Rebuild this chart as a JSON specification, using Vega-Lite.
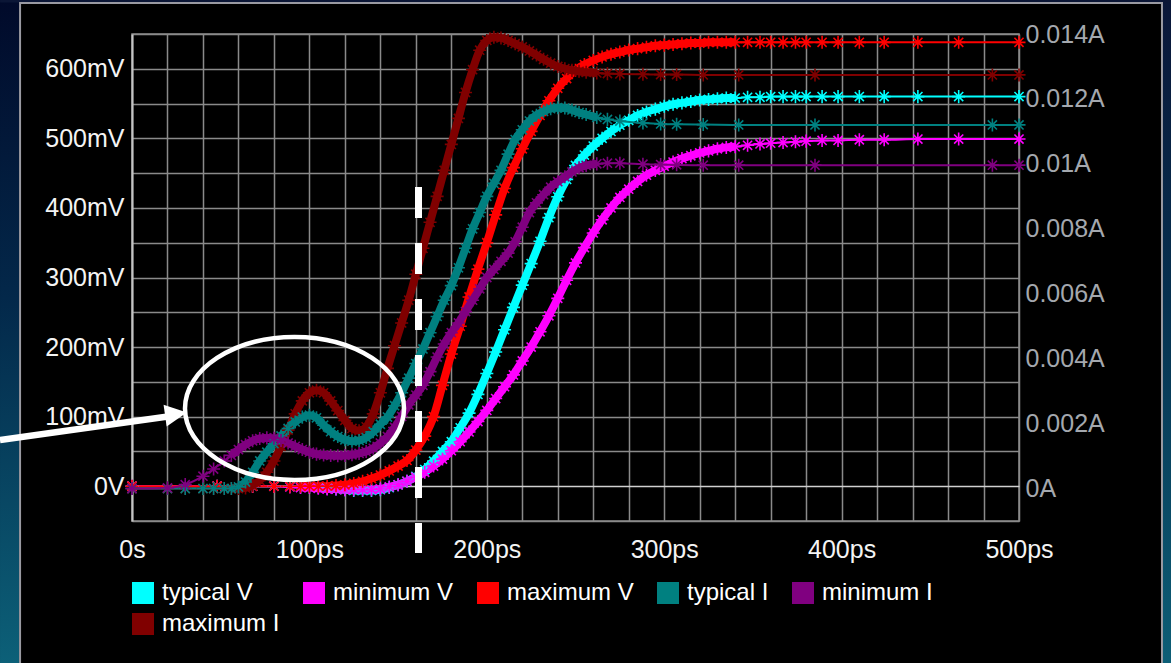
{
"$schema": "https://vega.github.io/schema/vega-lite/v6.json",
"width": 887, "height": 487,
"autosize": {"type": "none"},
"padding": {"left": 132, "top": 34, "right": 152, "bottom": 142},
"background": "#000000",
"config": {
  "font": "Liberation Sans",
  "view": {"stroke": "#8c8c8c", "strokeWidth": 1.5},
  "axis": {"ticks": false, "labelFont": "Liberation Sans", "labelFontSize": 25, "grid": true, "gridWidth": 1.5, "domain": false, "labelOverlap": false, "labelFlush": false}
},
"datasets": {"curves": [
{"s":"typical V","t":0,"v":0},{"s":"typical V","t":48,"v":0},{"s":"typical V","t":68,"v":0},{"s":"typical V","t":80,"v":0},{"s":"typical V","t":89,"v":0},{"s":"typical V","t":95,"v":-1},{"s":"typical V","t":100,"v":-1},{"s":"typical V","t":105,"v":-2},{"s":"typical V","t":110,"v":-3},{"s":"typical V","t":115,"v":-4},{"s":"typical V","t":120,"v":-5},{"s":"typical V","t":125,"v":-6},{"s":"typical V","t":130,"v":-6},{"s":"typical V","t":135,"v":-6},{"s":"typical V","t":140,"v":-5},{"s":"typical V","t":145,"v":-2},{"s":"typical V","t":150,"v":2},{"s":"typical V","t":155,"v":7},{"s":"typical V","t":160,"v":14},{"s":"typical V","t":165,"v":24},{"s":"typical V","t":170,"v":36},{"s":"typical V","t":175,"v":50},{"s":"typical V","t":180,"v":64},{"s":"typical V","t":185,"v":84},{"s":"typical V","t":190,"v":105},{"s":"typical V","t":195,"v":132},{"s":"typical V","t":200,"v":162},{"s":"typical V","t":205,"v":193},{"s":"typical V","t":210,"v":225},{"s":"typical V","t":215,"v":257},{"s":"typical V","t":220,"v":289},{"s":"typical V","t":225,"v":320},{"s":"typical V","t":230,"v":352},{"s":"typical V","t":235,"v":386},{"s":"typical V","t":240,"v":416},{"s":"typical V","t":245,"v":441},{"s":"typical V","t":250,"v":461},{"s":"typical V","t":255,"v":476},{"s":"typical V","t":260,"v":489},{"s":"typical V","t":265,"v":500},{"s":"typical V","t":270,"v":510},{"s":"typical V","t":275,"v":519},{"s":"typical V","t":280,"v":526},{"s":"typical V","t":285,"v":533},{"s":"typical V","t":290,"v":538},{"s":"typical V","t":295,"v":542},{"s":"typical V","t":300,"v":546},{"s":"typical V","t":305,"v":549},{"s":"typical V","t":310,"v":551},{"s":"typical V","t":315,"v":553},{"s":"typical V","t":320,"v":555},{"s":"typical V","t":325,"v":556},{"s":"typical V","t":330,"v":557},{"s":"typical V","t":335,"v":558},{"s":"typical V","t":340,"v":558},{"s":"typical V","t":347,"v":559},{"s":"typical V","t":354,"v":559},{"s":"typical V","t":360,"v":560},{"s":"typical V","t":367,"v":560},{"s":"typical V","t":374,"v":560},{"s":"typical V","t":380,"v":560},{"s":"typical V","t":389,"v":560},{"s":"typical V","t":398,"v":560},{"s":"typical V","t":410,"v":560},{"s":"typical V","t":424,"v":560},{"s":"typical V","t":443,"v":560},{"s":"typical V","t":466,"v":560},{"s":"typical V","t":500,"v":560},
{"s":"minimum V","t":0,"v":0},{"s":"minimum V","t":48,"v":0},{"s":"minimum V","t":68,"v":0},{"s":"minimum V","t":80,"v":0},{"s":"minimum V","t":89,"v":-1},{"s":"minimum V","t":95,"v":-2},{"s":"minimum V","t":100,"v":-2},{"s":"minimum V","t":105,"v":-3},{"s":"minimum V","t":110,"v":-4},{"s":"minimum V","t":115,"v":-4},{"s":"minimum V","t":120,"v":-5},{"s":"minimum V","t":125,"v":-5},{"s":"minimum V","t":130,"v":-5},{"s":"minimum V","t":135,"v":-5},{"s":"minimum V","t":140,"v":-4},{"s":"minimum V","t":145,"v":-1},{"s":"minimum V","t":150,"v":2},{"s":"minimum V","t":155,"v":7},{"s":"minimum V","t":160,"v":13},{"s":"minimum V","t":165,"v":20},{"s":"minimum V","t":170,"v":29},{"s":"minimum V","t":175,"v":39},{"s":"minimum V","t":180,"v":51},{"s":"minimum V","t":185,"v":64},{"s":"minimum V","t":190,"v":78},{"s":"minimum V","t":195,"v":93},{"s":"minimum V","t":200,"v":109},{"s":"minimum V","t":205,"v":126},{"s":"minimum V","t":210,"v":143},{"s":"minimum V","t":215,"v":160},{"s":"minimum V","t":220,"v":180},{"s":"minimum V","t":225,"v":200},{"s":"minimum V","t":230,"v":222},{"s":"minimum V","t":235,"v":245},{"s":"minimum V","t":240,"v":270},{"s":"minimum V","t":245,"v":296},{"s":"minimum V","t":250,"v":321},{"s":"minimum V","t":255,"v":343},{"s":"minimum V","t":260,"v":364},{"s":"minimum V","t":265,"v":383},{"s":"minimum V","t":270,"v":400},{"s":"minimum V","t":275,"v":415},{"s":"minimum V","t":280,"v":427},{"s":"minimum V","t":285,"v":438},{"s":"minimum V","t":290,"v":447},{"s":"minimum V","t":295,"v":454},{"s":"minimum V","t":300,"v":460},{"s":"minimum V","t":305,"v":466},{"s":"minimum V","t":310,"v":471},{"s":"minimum V","t":315,"v":475},{"s":"minimum V","t":320,"v":479},{"s":"minimum V","t":325,"v":482},{"s":"minimum V","t":330,"v":485},{"s":"minimum V","t":335,"v":487},{"s":"minimum V","t":340,"v":488},{"s":"minimum V","t":347,"v":490},{"s":"minimum V","t":354,"v":492},{"s":"minimum V","t":360,"v":493},{"s":"minimum V","t":367,"v":494},{"s":"minimum V","t":374,"v":495},{"s":"minimum V","t":380,"v":496},{"s":"minimum V","t":389,"v":497},{"s":"minimum V","t":398,"v":497},{"s":"minimum V","t":410,"v":498},{"s":"minimum V","t":424,"v":498},{"s":"minimum V","t":443,"v":499},{"s":"minimum V","t":466,"v":499},{"s":"minimum V","t":500,"v":499},
{"s":"maximum V","t":0,"v":0},{"s":"maximum V","t":48,"v":0},{"s":"maximum V","t":68,"v":0},{"s":"maximum V","t":80,"v":0},{"s":"maximum V","t":89,"v":0},{"s":"maximum V","t":95,"v":0},{"s":"maximum V","t":100,"v":0},{"s":"maximum V","t":105,"v":0},{"s":"maximum V","t":110,"v":0},{"s":"maximum V","t":115,"v":1},{"s":"maximum V","t":120,"v":2},{"s":"maximum V","t":125,"v":4},{"s":"maximum V","t":130,"v":7},{"s":"maximum V","t":135,"v":11},{"s":"maximum V","t":140,"v":16},{"s":"maximum V","t":145,"v":22},{"s":"maximum V","t":150,"v":29},{"s":"maximum V","t":155,"v":37},{"s":"maximum V","t":160,"v":52},{"s":"maximum V","t":165,"v":72},{"s":"maximum V","t":170,"v":100},{"s":"maximum V","t":175,"v":145},{"s":"maximum V","t":180,"v":190},{"s":"maximum V","t":185,"v":230},{"s":"maximum V","t":190,"v":272},{"s":"maximum V","t":195,"v":312},{"s":"maximum V","t":200,"v":350},{"s":"maximum V","t":205,"v":390},{"s":"maximum V","t":210,"v":428},{"s":"maximum V","t":215,"v":458},{"s":"maximum V","t":220,"v":485},{"s":"maximum V","t":225,"v":510},{"s":"maximum V","t":230,"v":533},{"s":"maximum V","t":235,"v":554},{"s":"maximum V","t":240,"v":572},{"s":"maximum V","t":245,"v":586},{"s":"maximum V","t":250,"v":598},{"s":"maximum V","t":255,"v":606},{"s":"maximum V","t":260,"v":612},{"s":"maximum V","t":265,"v":617},{"s":"maximum V","t":270,"v":621},{"s":"maximum V","t":275,"v":624},{"s":"maximum V","t":280,"v":627},{"s":"maximum V","t":285,"v":629},{"s":"maximum V","t":290,"v":631},{"s":"maximum V","t":295,"v":633},{"s":"maximum V","t":300,"v":634},{"s":"maximum V","t":305,"v":635},{"s":"maximum V","t":310,"v":636},{"s":"maximum V","t":315,"v":637},{"s":"maximum V","t":320,"v":637},{"s":"maximum V","t":325,"v":638},{"s":"maximum V","t":330,"v":638},{"s":"maximum V","t":335,"v":638},{"s":"maximum V","t":340,"v":638},{"s":"maximum V","t":347,"v":638},{"s":"maximum V","t":354,"v":638},{"s":"maximum V","t":360,"v":638},{"s":"maximum V","t":367,"v":638},{"s":"maximum V","t":374,"v":638},{"s":"maximum V","t":380,"v":638},{"s":"maximum V","t":389,"v":638},{"s":"maximum V","t":398,"v":638},{"s":"maximum V","t":410,"v":638},{"s":"maximum V","t":424,"v":638},{"s":"maximum V","t":443,"v":638},{"s":"maximum V","t":466,"v":638},{"s":"maximum V","t":500,"v":638},
{"s":"maximum I","t":0,"v":0},{"s":"maximum I","t":20,"v":0},{"s":"maximum I","t":30,"v":0},{"s":"maximum I","t":40,"v":0},{"s":"maximum I","t":46,"v":0},{"s":"maximum I","t":52,"v":0},{"s":"maximum I","t":56,"v":0},{"s":"maximum I","t":60,"v":0},{"s":"maximum I","t":64,"v":0.02},{"s":"maximum I","t":68,"v":0.1},{"s":"maximum I","t":72,"v":0.25},{"s":"maximum I","t":76,"v":0.5},{"s":"maximum I","t":80,"v":0.85},{"s":"maximum I","t":84,"v":1.3},{"s":"maximum I","t":88,"v":1.8},{"s":"maximum I","t":92,"v":2.3},{"s":"maximum I","t":96,"v":2.7},{"s":"maximum I","t":100,"v":2.95},{"s":"maximum I","t":104,"v":3.03},{"s":"maximum I","t":108,"v":2.95},{"s":"maximum I","t":112,"v":2.7},{"s":"maximum I","t":116,"v":2.4},{"s":"maximum I","t":120,"v":2.1},{"s":"maximum I","t":124,"v":1.85},{"s":"maximum I","t":128,"v":1.78},{"s":"maximum I","t":132,"v":1.9},{"s":"maximum I","t":136,"v":2.3},{"s":"maximum I","t":140,"v":2.95},{"s":"maximum I","t":144,"v":3.7},{"s":"maximum I","t":148,"v":4.4},{"s":"maximum I","t":152,"v":5.1},{"s":"maximum I","t":156,"v":5.8},{"s":"maximum I","t":160,"v":6.6},{"s":"maximum I","t":164,"v":7.4},{"s":"maximum I","t":168,"v":8.2},{"s":"maximum I","t":172,"v":9.0},{"s":"maximum I","t":176,"v":9.8},{"s":"maximum I","t":180,"v":10.6},{"s":"maximum I","t":184,"v":11.4},{"s":"maximum I","t":188,"v":12.2},{"s":"maximum I","t":192,"v":12.9},{"s":"maximum I","t":196,"v":13.5},{"s":"maximum I","t":200,"v":13.8},{"s":"maximum I","t":204,"v":13.9},{"s":"maximum I","t":208,"v":13.88},{"s":"maximum I","t":212,"v":13.8},{"s":"maximum I","t":216,"v":13.7},{"s":"maximum I","t":220,"v":13.6},{"s":"maximum I","t":224,"v":13.48},{"s":"maximum I","t":228,"v":13.35},{"s":"maximum I","t":232,"v":13.22},{"s":"maximum I","t":236,"v":13.1},{"s":"maximum I","t":240,"v":13.0},{"s":"maximum I","t":244,"v":12.93},{"s":"maximum I","t":248,"v":12.88},{"s":"maximum I","t":252,"v":12.85},{"s":"maximum I","t":256,"v":12.82},{"s":"maximum I","t":262,"v":12.8},{"s":"maximum I","t":268,"v":12.78},{"s":"maximum I","t":275,"v":12.77},{"s":"maximum I","t":288,"v":12.76},{"s":"maximum I","t":298,"v":12.75},{"s":"maximum I","t":307,"v":12.75},{"s":"maximum I","t":322,"v":12.74},{"s":"maximum I","t":342,"v":12.74},{"s":"maximum I","t":385,"v":12.74},{"s":"maximum I","t":485,"v":12.74},{"s":"maximum I","t":500,"v":12.74},
{"s":"typical I","t":0,"v":0},{"s":"typical I","t":20,"v":0},{"s":"typical I","t":30,"v":0},{"s":"typical I","t":40,"v":0},{"s":"typical I","t":46,"v":0},{"s":"typical I","t":52,"v":0},{"s":"typical I","t":56,"v":0},{"s":"typical I","t":60,"v":0.05},{"s":"typical I","t":64,"v":0.2},{"s":"typical I","t":68,"v":0.5},{"s":"typical I","t":72,"v":0.85},{"s":"typical I","t":76,"v":1.12},{"s":"typical I","t":80,"v":1.38},{"s":"typical I","t":84,"v":1.62},{"s":"typical I","t":88,"v":1.85},{"s":"typical I","t":92,"v":2.05},{"s":"typical I","t":96,"v":2.2},{"s":"typical I","t":100,"v":2.26},{"s":"typical I","t":104,"v":2.18},{"s":"typical I","t":108,"v":1.95},{"s":"typical I","t":112,"v":1.75},{"s":"typical I","t":116,"v":1.6},{"s":"typical I","t":120,"v":1.5},{"s":"typical I","t":124,"v":1.46},{"s":"typical I","t":128,"v":1.48},{"s":"typical I","t":132,"v":1.57},{"s":"typical I","t":136,"v":1.75},{"s":"typical I","t":140,"v":1.98},{"s":"typical I","t":144,"v":2.2},{"s":"typical I","t":148,"v":2.55},{"s":"typical I","t":152,"v":2.95},{"s":"typical I","t":156,"v":3.4},{"s":"typical I","t":160,"v":3.85},{"s":"typical I","t":164,"v":4.3},{"s":"typical I","t":168,"v":4.8},{"s":"typical I","t":172,"v":5.3},{"s":"typical I","t":176,"v":5.8},{"s":"typical I","t":180,"v":6.25},{"s":"typical I","t":184,"v":6.8},{"s":"typical I","t":188,"v":7.4},{"s":"typical I","t":192,"v":8.0},{"s":"typical I","t":196,"v":8.5},{"s":"typical I","t":200,"v":9.0},{"s":"typical I","t":204,"v":9.4},{"s":"typical I","t":208,"v":9.8},{"s":"typical I","t":212,"v":10.3},{"s":"typical I","t":216,"v":10.75},{"s":"typical I","t":220,"v":11.05},{"s":"typical I","t":224,"v":11.32},{"s":"typical I","t":228,"v":11.5},{"s":"typical I","t":232,"v":11.62},{"s":"typical I","t":236,"v":11.7},{"s":"typical I","t":240,"v":11.73},{"s":"typical I","t":244,"v":11.72},{"s":"typical I","t":248,"v":11.66},{"s":"typical I","t":252,"v":11.58},{"s":"typical I","t":256,"v":11.52},{"s":"typical I","t":262,"v":11.43},{"s":"typical I","t":268,"v":11.37},{"s":"typical I","t":275,"v":11.32},{"s":"typical I","t":288,"v":11.26},{"s":"typical I","t":298,"v":11.23},{"s":"typical I","t":307,"v":11.22},{"s":"typical I","t":322,"v":11.21},{"s":"typical I","t":342,"v":11.2},{"s":"typical I","t":385,"v":11.2},{"s":"typical I","t":485,"v":11.2},{"s":"typical I","t":500,"v":11.2},
{"s":"minimum I","t":0,"v":0},{"s":"minimum I","t":20,"v":0.02},{"s":"minimum I","t":30,"v":0.12},{"s":"minimum I","t":40,"v":0.38},{"s":"minimum I","t":46,"v":0.6},{"s":"minimum I","t":52,"v":0.85},{"s":"minimum I","t":56,"v":1.02},{"s":"minimum I","t":60,"v":1.2},{"s":"minimum I","t":64,"v":1.35},{"s":"minimum I","t":68,"v":1.47},{"s":"minimum I","t":72,"v":1.54},{"s":"minimum I","t":76,"v":1.56},{"s":"minimum I","t":80,"v":1.55},{"s":"minimum I","t":84,"v":1.48},{"s":"minimum I","t":88,"v":1.4},{"s":"minimum I","t":92,"v":1.3},{"s":"minimum I","t":96,"v":1.2},{"s":"minimum I","t":100,"v":1.12},{"s":"minimum I","t":104,"v":1.06},{"s":"minimum I","t":108,"v":1.03},{"s":"minimum I","t":112,"v":1.02},{"s":"minimum I","t":116,"v":1.01},{"s":"minimum I","t":120,"v":1.02},{"s":"minimum I","t":124,"v":1.04},{"s":"minimum I","t":128,"v":1.08},{"s":"minimum I","t":132,"v":1.14},{"s":"minimum I","t":136,"v":1.24},{"s":"minimum I","t":140,"v":1.4},{"s":"minimum I","t":144,"v":1.6},{"s":"minimum I","t":148,"v":1.88},{"s":"minimum I","t":152,"v":2.22},{"s":"minimum I","t":156,"v":2.58},{"s":"minimum I","t":160,"v":2.88},{"s":"minimum I","t":164,"v":3.18},{"s":"minimum I","t":168,"v":3.6},{"s":"minimum I","t":172,"v":4.05},{"s":"minimum I","t":176,"v":4.45},{"s":"minimum I","t":180,"v":4.8},{"s":"minimum I","t":184,"v":5.1},{"s":"minimum I","t":188,"v":5.45},{"s":"minimum I","t":192,"v":5.8},{"s":"minimum I","t":196,"v":6.15},{"s":"minimum I","t":200,"v":6.5},{"s":"minimum I","t":204,"v":6.75},{"s":"minimum I","t":208,"v":7.0},{"s":"minimum I","t":212,"v":7.25},{"s":"minimum I","t":216,"v":7.6},{"s":"minimum I","t":220,"v":8.05},{"s":"minimum I","t":224,"v":8.5},{"s":"minimum I","t":228,"v":8.8},{"s":"minimum I","t":232,"v":9.05},{"s":"minimum I","t":236,"v":9.28},{"s":"minimum I","t":240,"v":9.45},{"s":"minimum I","t":244,"v":9.6},{"s":"minimum I","t":248,"v":9.75},{"s":"minimum I","t":252,"v":9.88},{"s":"minimum I","t":256,"v":9.95},{"s":"minimum I","t":262,"v":10.0},{"s":"minimum I","t":268,"v":10.02},{"s":"minimum I","t":275,"v":10.02},{"s":"minimum I","t":288,"v":9.99},{"s":"minimum I","t":298,"v":9.98},{"s":"minimum I","t":307,"v":9.97},{"s":"minimum I","t":322,"v":9.96},{"s":"minimum I","t":342,"v":9.96},{"s":"minimum I","t":385,"v":9.96},{"s":"minimum I","t":485,"v":9.96},{"s":"minimum I","t":500,"v":9.96}
]},
"resolve": {"scale": {"y": "independent"}, "axis": {"y": "independent"}},
"layer": [
 {"layer": [
   {"data": {"values": [{}]},
    "mark": {"type": "rect", "fill": {"gradient": "linear", "x1": 0, "y1": 0, "x2": 0, "y2": 1, "stops": [{"offset": 0, "color": "#010a2a"}, {"offset": 0.45, "color": "#03284a"}, {"offset": 1, "color": "#0c6078"}]}},
    "encoding": {
      "x": {"datum": -74.4, "type": "quantitative", "scale": {"domain": [0, 500], "nice": false, "zero": false}},
      "x2": {"datum": -63.7},
      "y": {"datum": 699, "type": "quantitative", "scale": {"domain": [-50, 650], "nice": false, "zero": false}},
      "y2": {"datum": -254}}},
   {"data": {"values": [{}]},
    "mark": {"type": "rect", "fill": {"gradient": "linear", "x1": 0, "y1": 0, "x2": 0, "y2": 1, "stops": [{"offset": 0, "color": "#0a1638"}, {"offset": 0.45, "color": "#06304f"}, {"offset": 1, "color": "#0d5e76"}]}},
    "encoding": {
      "x": {"datum": 580.9, "type": "quantitative", "scale": {"domain": [0, 500], "nice": false, "zero": false}},
      "x2": {"datum": 586},
      "y": {"datum": 699, "type": "quantitative", "scale": {"domain": [-50, 650], "nice": false, "zero": false}},
      "y2": {"datum": -254}}},
   {"data": {"values": [{}]},
    "mark": {"type": "rect", "color": "#0b1636"},
    "encoding": {
      "x": {"datum": -74.4, "type": "quantitative", "scale": {"domain": [0, 500], "nice": false, "zero": false}},
      "x2": {"datum": 586},
      "y": {"datum": 699, "type": "quantitative", "scale": {"domain": [-50, 650], "nice": false, "zero": false}},
      "y2": {"datum": 695.3}}},
   {"data": {"values": [{}]},
    "mark": {"type": "rect", "fill": "transparent", "stroke": "#9a9aa2", "strokeWidth": 2},
    "encoding": {
      "x": {"datum": -63.1, "type": "quantitative", "scale": {"domain": [0, 500], "nice": false, "zero": false}},
      "x2": {"datum": 580.6},
      "y": {"datum": 694.6, "type": "quantitative", "scale": {"domain": [-50, 650], "nice": false, "zero": false}},
      "y2": {"datum": -264}}},
   {"data": {"name": "curves"},
    "transform": [{"filter": "false"}],
    "mark": {"type": "square", "size": 484, "opacity": 1, "filled": true},
    "encoding": {
      "x": {"field": "t", "type": "quantitative", "scale": {"domain": [0, 500], "nice": false, "zero": false}},
      "y": {"field": "v", "type": "quantitative", "scale": {"domain": [-50, 650], "nice": false, "zero": false}},
      "color": {"field": "s", "type": "nominal", "scale": {"domain": ["typical V", "minimum V", "maximum V", "typical I", "minimum I", "maximum I"], "range": ["#00ffff", "#ff00ff", "#ff0000", "#008080", "#800080", "#800000"]},
        "legend": {"title": null, "orient": "none", "legendX": -1, "legendY": 547, "direction": "horizontal", "columns": 5, "columnPadding": 22, "rowPadding": 7, "padding": 0,
          "symbolType": "square", "symbolSize": 484, "symbolStrokeWidth": 0, "symbolOpacity": 1, "labelFontSize": 24, "labelColor": "#ffffff", "labelFont": "Liberation Sans", "labelOffset": 7}}}},
   {"data": {"name": "curves"},
    "transform": [{"filter": {"field": "s", "oneOf": ["typical V", "minimum V", "maximum V"]}}],
    "mark": {"type": "line", "strokeWidth": 2, "interpolate": "monotone"},
    "encoding": {
      "x": {"field": "t", "type": "quantitative", "scale": {"domain": [0, 500], "nice": false, "zero": false},
        "axis": {"title": null, "tickCount": 40, "values": [0,20,40,60,80,100,120,140,160,180,200,220,240,260,280,300,320,340,360,380,400,420,440,460,480,500],
          "labelExpr": "datum.value % 100 === 0 ? (datum.value === 0 ? '0s' : datum.value + 'ps') : ''",
          "labelColor": "#f4f4f4", "labelPadding": 16,
          "gridColor": "#8a8a8a"}},
      "y": {"field": "v", "type": "quantitative", "scale": {"domain": [-50, 650], "nice": false, "zero": false},
        "axis": {"title": null, "orient": "left", "tickCount": 40, "values": [-50,0,50,100,150,200,250,300,350,400,450,500,550,600,650],
          "labelExpr": "datum.value >= 0 && datum.value % 100 === 0 ? (datum.value === 0 ? '0V' : datum.value + 'mV') : ''",
          "labelColor": "#f4f4f4", "labelPadding": 8, "domain": true, "domainColor": "#c4c4c4", "domainWidth": 2,
          "gridColor": {"condition": {"test": "datum.value === 0", "value": "#d0d0d0"}, "value": "#8a8a8a"}}},
      "color": {"field": "s", "type": "nominal", "scale": {"domain": ["typical V", "minimum V", "maximum V", "typical I", "minimum I", "maximum I"], "range": ["#00ffff", "#ff00ff", "#ff0000", "#008080", "#800080", "#800000"]}}}},
   {"data": {"name": "curves"},
    "transform": [{"filter": {"field": "s", "oneOf": ["typical V", "minimum V", "maximum V"]}}, {"filter": "datum.t >= 95 && datum.t <= 345"}],
    "mark": {"type": "line", "strokeWidth": 8, "interpolate": "monotone"},
    "encoding": {
      "x": {"field": "t", "type": "quantitative", "scale": {"domain": [0, 500], "nice": false, "zero": false}},
      "y": {"field": "v", "type": "quantitative", "scale": {"domain": [-50, 650], "nice": false, "zero": false}},
      "color": {"field": "s", "type": "nominal", "scale": {"domain": ["typical V", "minimum V", "maximum V", "typical I", "minimum I", "maximum I"], "range": ["#00ffff", "#ff00ff", "#ff0000", "#008080", "#800080", "#800000"]}}}},
   {"data": {"name": "curves"},
    "transform": [{"filter": {"field": "s", "oneOf": ["typical V", "minimum V", "maximum V"]}}],
    "mark": {"type": "point", "shape": "M -1 0 L 1 0 M 0 -1 L 0 1 M -0.7 -0.7 L 0.7 0.7 M -0.7 0.7 L 0.7 -0.7", "filled": false, "size": 170, "strokeWidth": 1.6, "opacity": 1},
    "encoding": {
      "x": {"field": "t", "type": "quantitative", "scale": {"domain": [0, 500], "nice": false, "zero": false}},
      "y": {"field": "v", "type": "quantitative", "scale": {"domain": [-50, 650], "nice": false, "zero": false}},
      "color": {"field": "s", "type": "nominal", "scale": {"domain": ["typical V", "minimum V", "maximum V", "typical I", "minimum I", "maximum I"], "range": ["#00ffff", "#ff00ff", "#ff0000", "#008080", "#800080", "#800000"]}}}}
 ]},
 {"layer": [
   {"data": {"name": "curves"},
    "transform": [{"filter": {"field": "s", "oneOf": ["typical I", "minimum I", "maximum I"]}}],
    "mark": {"type": "line", "strokeWidth": 2, "interpolate": "monotone"},
    "encoding": {
      "x": {"field": "t", "type": "quantitative", "scale": {"domain": [0, 500], "nice": false, "zero": false}},
      "y": {"field": "v", "type": "quantitative", "scale": {"domain": [-1, 14], "nice": false, "zero": false},
        "axis": {"title": null, "orient": "right", "tickCount": 40, "values": [-1,0,1,2,3,4,5,6,7,8,9,10,11,12,13,14],
          "labelExpr": "datum.value >= 0 && datum.value % 2 === 0 ? (datum.value / 1000) + 'A' : ''",
          "labelColor": "#a4a8ae", "labelPadding": 6,
          "gridColor": {"condition": {"test": "datum.value === 0", "value": "#d0d0d0"}, "value": "#8a8a8a"}}},
      "color": {"field": "s", "type": "nominal", "scale": {"domain": ["typical V", "minimum V", "maximum V", "typical I", "minimum I", "maximum I"], "range": ["#00ffff", "#ff00ff", "#ff0000", "#008080", "#800080", "#800000"]}}}},
   {"data": {"name": "curves"},
    "transform": [{"filter": {"field": "s", "oneOf": ["typical I", "minimum I", "maximum I"]}}, {"filter": "datum.t >= 56 && datum.t <= 262"}],
    "mark": {"type": "line", "strokeWidth": 8, "interpolate": "monotone"},
    "encoding": {
      "x": {"field": "t", "type": "quantitative", "scale": {"domain": [0, 500], "nice": false, "zero": false}},
      "y": {"field": "v", "type": "quantitative", "scale": {"domain": [-1, 14], "nice": false, "zero": false}},
      "color": {"field": "s", "type": "nominal", "scale": {"domain": ["typical V", "minimum V", "maximum V", "typical I", "minimum I", "maximum I"], "range": ["#00ffff", "#ff00ff", "#ff0000", "#008080", "#800080", "#800000"]}}}},
   {"data": {"name": "curves"},
    "transform": [{"filter": {"field": "s", "oneOf": ["typical I", "minimum I", "maximum I"]}}],
    "mark": {"type": "point", "shape": "M -1 0 L 1 0 M 0 -1 L 0 1 M -0.7 -0.7 L 0.7 0.7 M -0.7 0.7 L 0.7 -0.7", "filled": false, "size": 170, "strokeWidth": 1.6, "opacity": 1},
    "encoding": {
      "x": {"field": "t", "type": "quantitative", "scale": {"domain": [0, 500], "nice": false, "zero": false}},
      "y": {"field": "v", "type": "quantitative", "scale": {"domain": [-1, 14], "nice": false, "zero": false}},
      "color": {"field": "s", "type": "nominal", "scale": {"domain": ["typical V", "minimum V", "maximum V", "typical I", "minimum I", "maximum I"], "range": ["#00ffff", "#ff00ff", "#ff0000", "#008080", "#800080", "#800000"]}}}}
 ]},
 {"layer": [
   {"data": {"values": [{}]},
    "mark": {"type": "rule", "color": "#ffffff", "strokeWidth": 7, "strokeDash": [31, 25]},
    "encoding": {
      "x": {"datum": 161.5, "type": "quantitative", "scale": {"domain": [0, 500], "nice": false, "zero": false}},
      "y": {"datum": 430, "type": "quantitative", "scale": {"domain": [-50, 650], "nice": false, "zero": false}, "axis": null},
      "y2": {"datum": -96}}},
   {"data": {"values": [{}]},
    "mark": {"type": "point", "shape": "M 1 0 C 1 0.3607 0.5523 0.653 0 0.653 C -0.5523 0.653 -1 0.3607 -1 0 C -1 -0.3607 -0.5523 -0.653 0 -0.653 C 0.5523 -0.653 1 -0.3607 1 0 Z", "filled": false, "size": 47961, "strokeWidth": 4.5, "color": "#ffffff", "opacity": 1},
    "encoding": {
      "x": {"datum": 91.6, "type": "quantitative", "scale": {"domain": [0, 500], "nice": false, "zero": false}},
      "y": {"datum": 111.7, "type": "quantitative", "scale": {"domain": [-50, 650], "nice": false, "zero": false}, "axis": null}}},
   {"data": {"values": [{}]},
    "mark": {"type": "rule", "color": "#ffffff", "strokeWidth": 6.5},
    "encoding": {
      "x": {"datum": -74.4, "type": "quantitative", "scale": {"domain": [0, 500], "nice": false, "zero": false}},
      "x2": {"datum": 20.3},
      "y": {"datum": 66.4, "type": "quantitative", "scale": {"domain": [-50, 650], "nice": false, "zero": false}, "axis": null},
      "y2": {"datum": 100.1}}},
   {"data": {"values": [{}]},
    "mark": {"type": "point", "shape": "M 1 0 L -1 -1 L -1 1 Z", "filled": true, "size": 484, "color": "#ffffff", "opacity": 1, "angle": -8},
    "encoding": {
      "x": {"datum": 24.8, "type": "quantitative", "scale": {"domain": [0, 500], "nice": false, "zero": false}},
      "y": {"datum": 103.8, "type": "quantitative", "scale": {"domain": [-50, 650], "nice": false, "zero": false}, "axis": null}}}
 ]}
]
}
